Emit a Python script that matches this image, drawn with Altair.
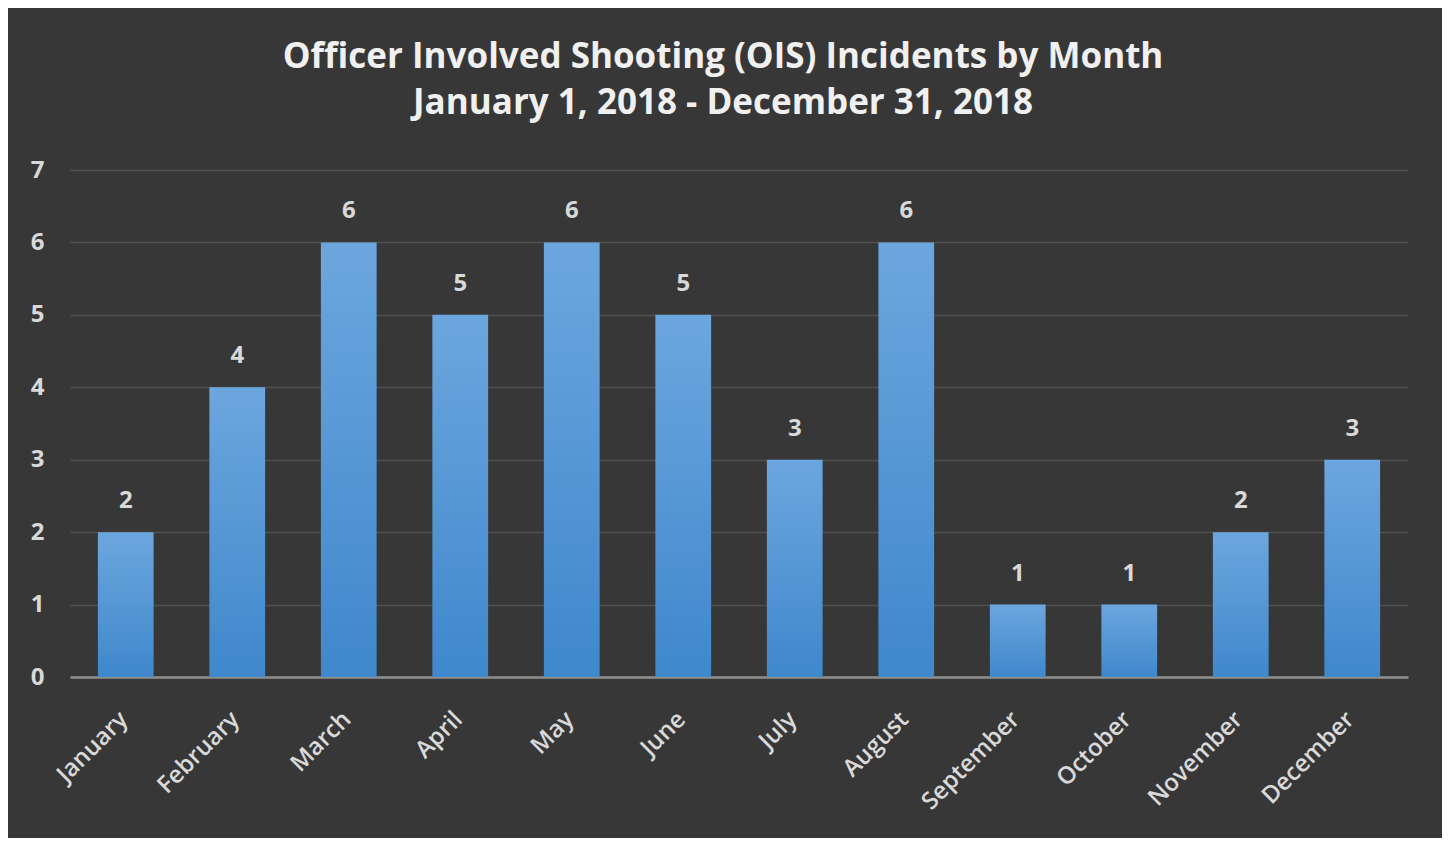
import altair as alt
import pandas as pd

months = ["January", "February", "March", "April", "May", "June",
          "July", "August", "September", "October", "November", "December"]
counts = [2, 4, 6, 5, 6, 5, 3, 6, 1, 1, 2, 3]
y_ticks = [0, 1, 2, 3, 4, 5, 6, 7]
title_lines = ["Officer Involved Shooting (OIS) Incidents by Month",
               "January 1, 2018 - December 31, 2018"]

df = pd.DataFrame({"month": months, "count": counts})

FONT = "Open Sans"
LABEL_COLOR = "#d9d9d9"

base = alt.Chart(df).encode(
    x=alt.X(
        "month:N",
        sort=months,
        title=None,
        scale=alt.Scale(paddingInner=0.5, paddingOuter=0.25),
        axis=alt.Axis(
            labelAngle=-45,
            labelFont=FONT,
            labelFontSize=24,
            labelFontWeight=600,
            labelColor=LABEL_COLOR,
            labelPadding=30,
            labelOffset=-10,
            ticks=False,
            domainColor="#8f8f8f",
            domainWidth=2.5,
            grid=False,
        ),
    ),
    y=alt.Y(
        "count:Q",
        title=None,
        scale=alt.Scale(domain=[0, 7], nice=False),
        axis=alt.Axis(
            values=y_ticks,
            labelFont=FONT,
            labelFontSize=24,
            labelFontWeight="bold",
            labelColor=LABEL_COLOR,
            labelPadding=26,
            ticks=False,
            domain=False,
            gridColor="#505050",
            gridWidth=1.5,
        ),
    ),
)

bars = base.mark_bar(
    color=alt.Gradient(
        gradient="linear",
        x1=0, x2=0, y1=0, y2=1,
        stops=[
            alt.GradientStop(color="#6ca6de", offset=0),
            alt.GradientStop(color="#3f88cc", offset=1),
        ],
    )
)

labels = base.mark_text(
    baseline="bottom",
    dy=-19,
    font=FONT,
    fontSize=24,
    fontWeight="bold",
    color=LABEL_COLOR,
).encode(text="count:Q")

chart = (
    (bars + labels)
    .properties(
        width=1338,
        height=507,
        padding={"left": 62, "top": 162, "right": 34, "bottom": 161},
        autosize=alt.AutoSizeParams(type="none"),
        background="#373737",
        title=alt.TitleParams(
            text=title_lines,
            font=FONT,
            fontSize=35,
            fontWeight="bold",
            color="#f0f0f0",
            lineHeight=46,
            anchor="middle",
            dx=-16,
            offset=37,
        ),
    )
    .configure_view(stroke=None)
)

chart.save("out.html", embed_options={"renderer": "svg", "actions": False})
